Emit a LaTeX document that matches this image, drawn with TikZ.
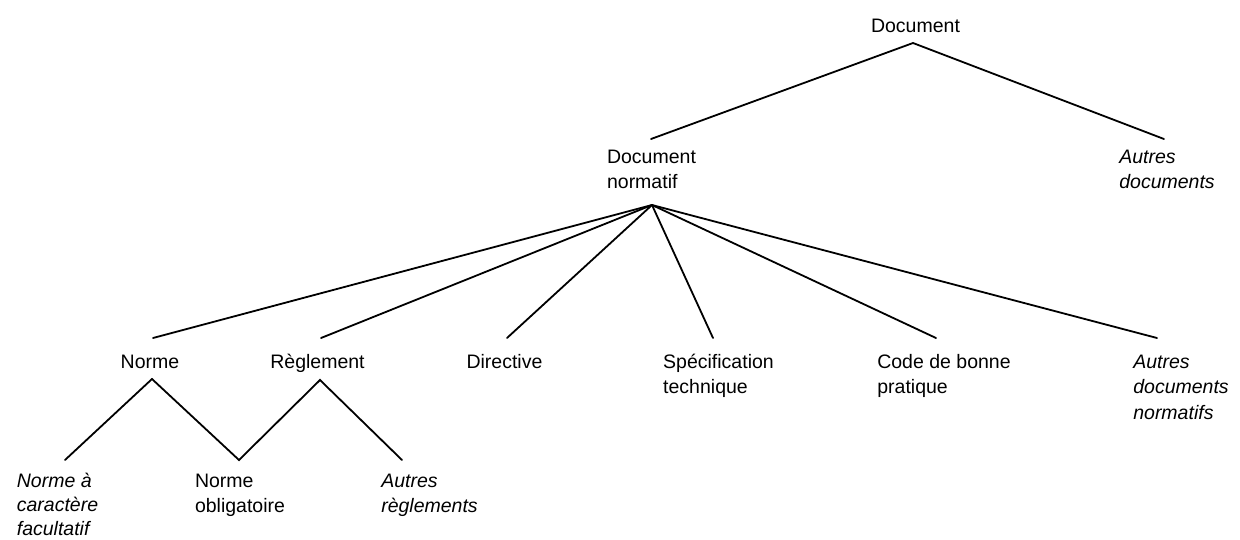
\documentclass[tikz,border=0pt]{standalone}
\usepackage{fontspec}
\setmainfont{Liberation Sans}
\newcommand{\twoline}[2]{\vtop{\hbox{#1}\hbox{#2}}}
\newcommand{\threeline}[3]{\vtop{\hbox{#1}\hbox{#2}\hbox{#3}}}
\begin{document}
\begin{tikzpicture}[x=1pt,y=-1pt,
  lbl/.style={inner sep=0pt, anchor=base, font=\fontsize{19.5}{25.5}\selectfont},
  ilbl/.style={lbl, font=\fontsize{19.5}{25.5}\selectfont\itshape},
  link/.style={line width=1.8pt, line cap=round, line join=miter}]
\useasboundingbox (0,0) rectangle (1240,539);
% level 0
\node[lbl] (doc) at (915.5,32) {Document};
% level 1
\node[lbl] (dn) at (651.5,163) {\twoline{Document}{normatif}};
\node[ilbl] (ad) at (1167,163) {\twoline{Autres}{documents}};
% level 2
\node[lbl] (norme) at (150,368) {Norme};
\node[lbl] (regl) at (317.5,368) {Règlement};
\node[lbl] (dir) at (504.5,368) {Directive};
\node[lbl] (spec) at (718.5,368) {\twoline{Spécification}{technique}};
\node[lbl] (code) at (944,368) {\twoline{Code de bonne}{pratique}};
\node[ilbl] (adn) at (1181,368) {\threeline{Autres}{documents}{normatifs}};
% level 3
\node[ilbl, font=\fontsize{19.5}{24}\selectfont\itshape] (nac) at (57.5,487) {\threeline{Norme à}{caractère}{facultatif}};
\node[lbl] (nob) at (240,487) {\twoline{Norme}{obligatoire}};
\node[ilbl] (ar) at (429.5,487) {\twoline{Autres}{règlements}};
% attachment points
\coordinate (docA) at ([xshift=-2.5pt,yshift=-11pt]doc.base);
\coordinate (dnT) at ([xshift=-0.5pt,yshift=24pt]dn.base);
\coordinate (adT) at ([xshift=-3pt,yshift=24pt]ad.base);
\coordinate (dnA) at ([xshift=0.5pt,yshift=-42pt]dn.base);
\coordinate (normeT) at ([xshift=3pt,yshift=30pt]norme.base);
\coordinate (reglT) at ([xshift=3.5pt,yshift=30pt]regl.base);
\coordinate (dirT) at ([xshift=2.5pt,yshift=30pt]dir.base);
\coordinate (specT) at ([xshift=-5.5pt,yshift=30pt]spec.base);
\coordinate (codeT) at ([xshift=-8pt,yshift=30pt]code.base);
\coordinate (adnT) at ([xshift=-24pt,yshift=30pt]adn.base);
\coordinate (normeA) at ([xshift=2pt,yshift=-11pt]norme.base);
\coordinate (reglA) at ([xshift=2.5pt,yshift=-12pt]regl.base);
\coordinate (nacT) at ([xshift=7.5pt,yshift=27pt]nac.base);
\coordinate (nobT) at ([xshift=-1pt,yshift=27pt]nob.base);
\coordinate (arT) at ([xshift=-27.5pt,yshift=27pt]ar.base);
% connectors
\draw[link] (dnT) -- (docA) -- (adT);
\draw[link] (dnA) -- (normeT);
\draw[link] (dnA) -- (reglT);
\draw[link] (dnA) -- (dirT);
\draw[link] (dnA) -- (specT);
\draw[link] (dnA) -- (codeT);
\draw[link] (dnA) -- (adnT);
\draw[link] (nacT) -- (normeA) -- (nobT) -- (reglA) -- (arT);
\end{tikzpicture}
\end{document}
